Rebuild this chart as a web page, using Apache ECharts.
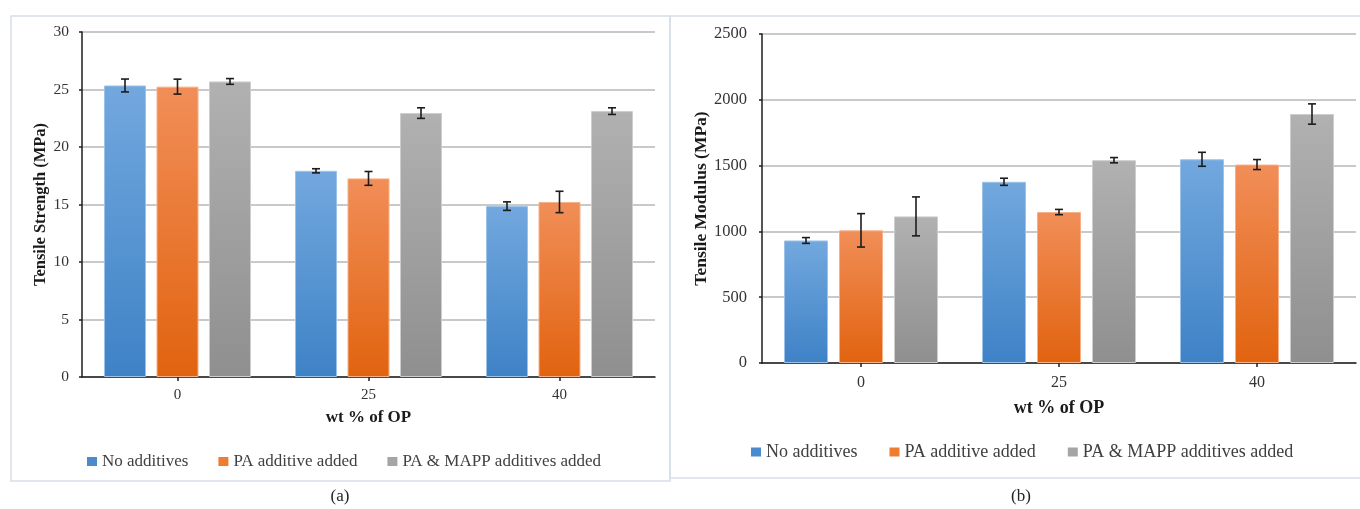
<!DOCTYPE html>
<html>
<head>
<meta charset="utf-8">
<title>Tensile strength and modulus vs OP content</title>
<script src="https://cdn.jsdelivr.net/npm/echarts@6/dist/echarts.min.js"></script>
<style>
  html, body { margin: 0; padding: 0; background: #ffffff; }
  #chart { width: 1360px; height: 509px; }
</style>
</head>
<body>
<div id="chart"></div>
<script>
// Filler loading (wt % of OP)
const categories = ['0', '25', '40'];
const seriesNames = ['No additives', 'PA additive added', 'PA & MAPP additives added'];

// (a) Tensile strength, MPa
const strengthNoAdd = [25.35, 17.93, 14.86];
const strengthNoAddErr = [0.56, 0.18, 0.37];
const strengthPA = [25.25, 17.27, 15.22];
const strengthPAErr = [0.65, 0.60, 0.93];
const strengthPAMAPP = [25.70, 22.95, 23.12];
const strengthPAMAPPErr = [0.25, 0.46, 0.29];

// (b) Tensile modulus, MPa
const modulusNoAdd = [931, 1377, 1548];
const modulusNoAddErr = [22, 27, 53];
const modulusPA = [1008, 1147, 1508];
const modulusPAErr = [127, 20, 38];
const modulusPAMAPP = [1114, 1541, 1892];
const modulusPAMAPPErr = [148, 20, 77];

const strengthTicks = { min: 0, max: 30, interval: 5 };
const modulusTicks = { min: 0, max: 2500, interval: 500 };

const SERIF = '"Liberation Serif", "Times New Roman", serif';

const palette = [
  { top: '#72a8de', bottom: '#3e82c6', solid: '#4a8bcd', edge: '#9cc2e9' },
  { top: '#f18e58', bottom: '#e1630f', solid: '#ed7d31', edge: '#f6b089' },
  { top: '#b1b1b1', bottom: '#8f8f8f', solid: '#a5a5a5', edge: '#cdcdcd' }
];

function fill(p) {
  return new echarts.graphic.LinearGradient(0, 0, 0, 1, [
    { offset: 0, color: p.top },
    { offset: 1, color: p.bottom }
  ]);
}

function barSeries(idx, values, axis, width) {
  return {
    name: seriesNames[idx],
    type: 'bar',
    xAxisIndex: axis,
    yAxisIndex: axis,
    data: values,
    barWidth: width,
    barGap: '25%',
    itemStyle: { color: fill(palette[idx]), borderColor: palette[idx].edge, borderWidth: 1 },
    emphasis: { disabled: true },
    z: 2
  };
}

// Vertical whiskers with caps, shifted to sit on the matching bar
function errorSeries(values, errs, axis, offset) {
  return {
    type: 'custom',
    xAxisIndex: axis,
    yAxisIndex: axis,
    silent: true,
    z: 5,
    encode: { x: 0, y: [1, 2] },
    data: values.map((v, i) => [i, v - errs[i], v + errs[i]]),
    renderItem: function (params, api) {
      const lo = api.coord([api.value(0), api.value(1)]);
      const hi = api.coord([api.value(0), api.value(2)]);
      const x = lo[0] + offset;
      const cap = 4;
      const st = { stroke: '#1c1c1c', lineWidth: 1.6 };
      return {
        type: 'group',
        children: [
          { type: 'line', shape: { x1: x, y1: hi[1], x2: x, y2: lo[1] }, style: st },
          { type: 'line', shape: { x1: x - cap, y1: hi[1], x2: x + cap, y2: hi[1] }, style: st },
          { type: 'line', shape: { x1: x - cap, y1: lo[1], x2: x + cap, y2: lo[1] }, style: st }
        ]
      };
    }
  };
}

function catAxis(gridIndex, fontSize, margin, nameGap) {
  return {
    type: 'category',
    gridIndex: gridIndex,
    data: categories,
    boundaryGap: true,
    name: 'wt % of OP',
    nameLocation: 'middle',
    nameGap: nameGap,
    nameTextStyle: { fontFamily: SERIF, fontWeight: 'bold', fontSize: fontSize + 2, color: '#1a1a1a' },
    axisLine: { show: true, lineStyle: { color: '#1e1e1e', width: 1.5 } },
    axisTick: { show: true, alignWithLabel: true, length: 4, lineStyle: { color: '#1e1e1e', width: 1.5 } },
    axisLabel: { fontFamily: SERIF, fontSize: fontSize, color: '#333333', margin: margin },
    splitLine: { show: false }
  };
}

function valAxis(gridIndex, ticks, title, fontSize, margin, nameGap) {
  return {
    type: 'value',
    gridIndex: gridIndex,
    min: ticks.min,
    max: ticks.max,
    interval: ticks.interval,
    name: title,
    nameLocation: 'middle',
    nameRotate: 90,
    nameGap: nameGap,
    nameTextStyle: { fontFamily: SERIF, fontWeight: 'bold', fontSize: fontSize + 1, color: '#1a1a1a' },
    axisLine: { show: true, lineStyle: { color: '#1e1e1e', width: 1.5 } },
    axisTick: { show: true, length: 3, lineStyle: { color: '#1e1e1e', width: 1.5 } },
    axisLabel: {
      fontFamily: SERIF, fontSize: fontSize, color: '#333333', margin: margin,
      formatter: (v) => String(v)
    },
    splitLine: { show: true, lineStyle: { color: '#c9c9c9', width: 2 } }
  };
}

function legendAt(left, top, fontSize, gap) {
  return {
    left: left,
    top: top,
    padding: 0,
    itemWidth: 10,
    itemHeight: 9,
    itemGap: gap,
    selectedMode: false,
    icon: 'rect',
    textStyle: { fontFamily: SERIF, fontSize: fontSize, color: '#404040' },
    data: seriesNames.map((n, i) => ({
      name: n,
      itemStyle: { color: palette[i].solid, borderWidth: 0 }
    }))
  };
}

const chart = echarts.init(document.getElementById('chart'), null, { renderer: 'canvas' });

chart.setOption({
  animation: false,
  backgroundColor: '#ffffff',
  grid: [
    { left: 82, top: 32, width: 573, height: 345 },
    { left: 762, top: 34, width: 594, height: 329 }
  ],
  xAxis: [catAxis(0, 15, 11, 32), catAxis(1, 16, 12, 36)],
  yAxis: [
    valAxis(0, strengthTicks, 'Tensile Strength (MPa)', 15.5, 13, 33),
    valAxis(1, modulusTicks, 'Tensile Modulus (MPa)', 16.5, 15, 51)
  ],
  legend: [legendAt(87, 453, 17, 30), legendAt(751, 443, 18, 32)],
  graphic: [
    { type: 'rect', shape: { x: 11, y: 16, width: 659, height: 465 }, style: { fill: 'none', stroke: '#d8dee7', lineWidth: 1.5 }, z: -1 },
    { type: 'rect', shape: { x: 670, y: 16, width: 700, height: 462 }, style: { fill: 'none', stroke: '#d8dee7', lineWidth: 1.5 }, z: -1 },
    { type: 'text', style: { text: '(a)', x: 340, y: 497, align: 'center', verticalAlign: 'middle', font: '17px ' + SERIF, fill: '#222222' } },
    { type: 'text', style: { text: '(b)', x: 1021, y: 497, align: 'center', verticalAlign: 'middle', font: '17px ' + SERIF, fill: '#222222' } }
  ],
  series: [
    barSeries(0, strengthNoAdd, 0, 42),
    barSeries(1, strengthPA, 0, 42),
    barSeries(2, strengthPAMAPP, 0, 42),
    errorSeries(strengthNoAdd, strengthNoAddErr, 0, -52.5),
    errorSeries(strengthPA, strengthPAErr, 0, 0),
    errorSeries(strengthPAMAPP, strengthPAMAPPErr, 0, 52.5),
    barSeries(0, modulusNoAdd, 1, 44),
    barSeries(1, modulusPA, 1, 44),
    barSeries(2, modulusPAMAPP, 1, 44),
    errorSeries(modulusNoAdd, modulusNoAddErr, 1, -55),
    errorSeries(modulusPA, modulusPAErr, 1, 0),
    errorSeries(modulusPAMAPP, modulusPAMAPPErr, 1, 55)
  ]
});
</script>
</body>
</html>
